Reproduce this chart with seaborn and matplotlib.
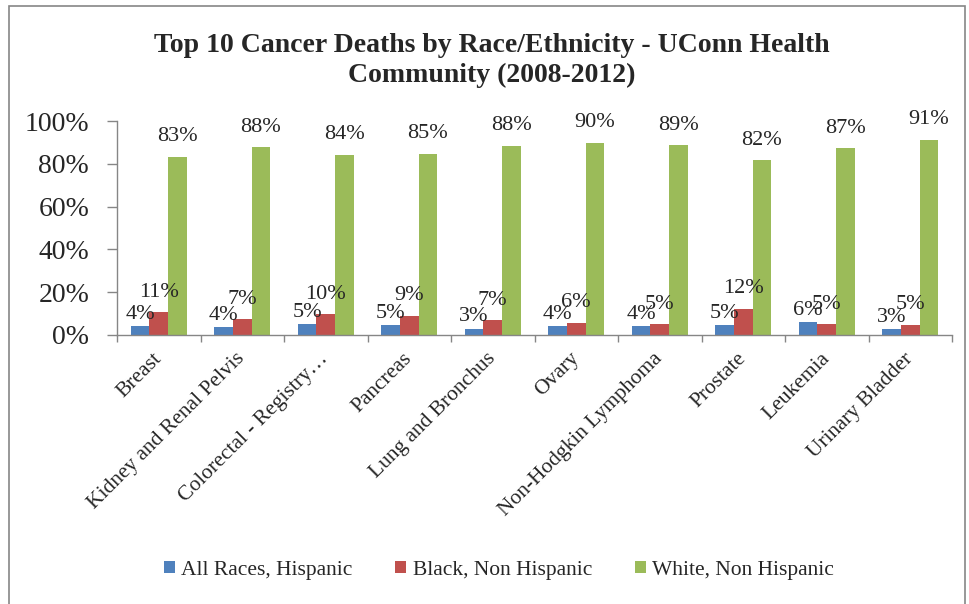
import matplotlib
matplotlib.use("Agg")
import matplotlib.pyplot as plt
import seaborn as sns
import pandas as pd
from matplotlib.patches import Rectangle

categories = ["Breast", "Kidney and Renal Pelvis", "Colorectal - Registry\u2026", "Pancreas",
              "Lung and Bronchus", "Ovary", "Non-Hodgkin Lymphoma", "Prostate", "Leukemia",
              "Urinary Bladder"]
series_names = ["All Races, Hispanic", "Black, Non Hispanic", "White, Non Hispanic"]
hispanic = [0.042, 0.039, 0.053, 0.047, 0.030, 0.042, 0.040, 0.046, 0.062, 0.029]
black = [0.107, 0.073, 0.097, 0.090, 0.070, 0.057, 0.051, 0.123, 0.051, 0.049]
white = [0.833, 0.877, 0.842, 0.848, 0.884, 0.899, 0.888, 0.818, 0.874, 0.913]
yticks = [0, 0.2, 0.4, 0.6, 0.8, 1.0]
title = "Top 10 Cancer Deaths by Race/Ethnicity - UConn Health\nCommunity (2008-2012)"

colors = ["#4F81BD", "#C0504D", "#9BBB59"]

rows = []
for name, vals in zip(series_names, [hispanic, black, white]):
    for c, v in zip(categories, vals):
        rows.append({"cancer": c, "group": name, "value": v})
df = pd.DataFrame(rows)

sns.set_theme(style="white")
plt.rcParams["font.family"] = ["Liberation Serif", "DejaVu Serif"]

fig = plt.figure(figsize=(9.69, 6.04), dpi=100)
ax = fig.add_axes([117/969, 1-335/604, (952-117)/969, (335-121)/604])

sns.barplot(data=df, x="cancer", y="value", hue="group", palette=colors,
            width=0.67, saturation=1, ax=ax, order=categories,
            hue_order=series_names, linewidth=0)

ax.set_ylim(0, 1)
ax.set_xlim(-0.5, len(categories) - 0.5)
ax.set_yticks(yticks)
ax.set_yticklabels([f"{int(round(t*100))}%" for t in yticks], fontsize=20)
ax.set_xlabel("")
ax.set_ylabel("")

# x tick labels
ax.set_xticks(range(len(categories)))
ax.set_xticklabels(categories, rotation=45, ha="right", rotation_mode="anchor",
                   fontsize=15.5, va="center")
ax.tick_params(axis="x", which="major", length=0, pad=15)
ax.set_xticks([i - 0.5 for i in range(len(categories) + 1)], minor=True)
ax.tick_params(axis="x", which="minor", length=5, width=1, color="#868686", direction="out", bottom=True)
ax.tick_params(axis="y", length=7, width=1, color="#868686", direction="out", left=True, pad=13)

for side in ["top", "right"]:
    ax.spines[side].set_visible(False)
for side in ["left", "bottom"]:
    ax.spines[side].set_color("#868686")
    ax.spines[side].set_linewidth(1)

# data labels
pads = [1.5, 7.5, 7.5]
for cont, vals, p in zip(ax.containers, [hispanic, black, white], pads):
    ax.bar_label(cont, labels=[f"{int(round(v*100))}%" for v in vals], padding=p, fontsize=16)

handles, labels = ax.get_legend_handles_labels()
if ax.get_legend() is not None:
    ax.get_legend().remove()
fig.legend(handles, labels, loc="center", bbox_to_anchor=(499/969, 1-570/604), ncol=3,
           frameon=False, fontsize=15.5, handlelength=0.5, handleheight=0.5,
           handletextpad=0.3, columnspacing=2.0)

fig.suptitle(title, x=492/969, y=1-33/604, va="top", fontsize=20, fontweight="bold",
             linespacing=1.25)

fig.patches.append(Rectangle((9/969, -0.02), 956/969, 1-6/604+0.02, transform=fig.transFigure,
                             fill=False, edgecolor="#868686", linewidth=1.2))

fig.savefig("out.png", dpi=100, facecolor="white")
